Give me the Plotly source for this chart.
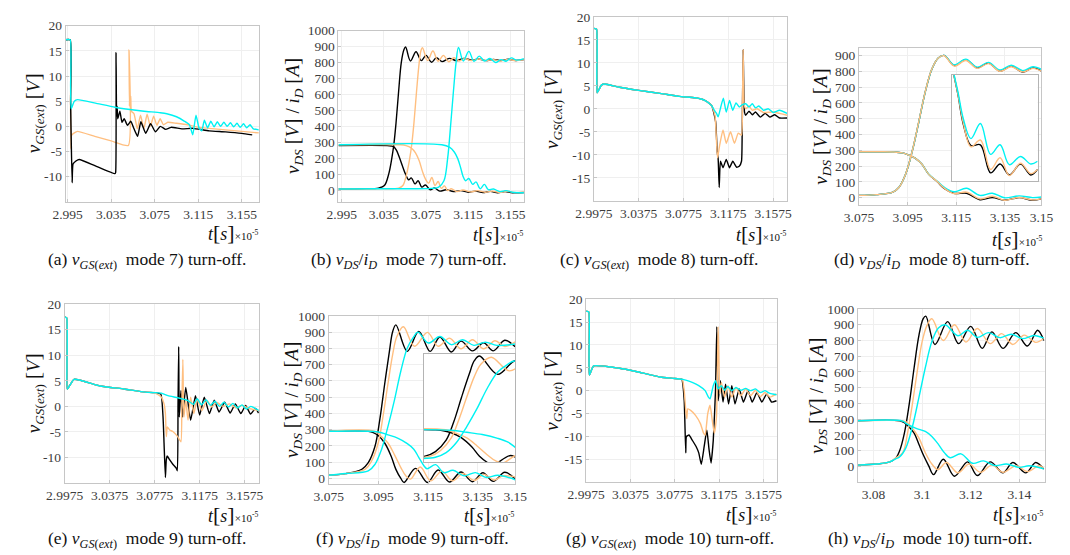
import plotly.graph_objects as go

# ---------------- (a) v_GS(ext), mode 7 turn-off ----------------
a_t_black = [2.9932, 2.9974, 2.9978, 2.9992, 3.0000, 3.0027, 3.0057, 3.020, 3.0385, 3.0391, 3.0395, 3.0400,
             3.0405, 3.041, 3.043, 3.045, 3.047, 3.050, 3.053, 3.056, 3.0593, 3.0623, 3.0667, 3.0712, 3.0757,
             3.0801, 3.085, 3.090, 3.100, 3.110, 3.125, 3.140, 3.155, 3.1645]
a_v_black = [17.2, 17.2, 5.0, -11.2, -7.5, -6.9, -6.6, -7.8, -9.4, -9.2, 14.7, 2.0, 4.0, 1.5, 3.0, 0.8, 1.5, 0.2,
             1.0, -0.5, -2.0, 0.9, -1.4, 0.5, -1.1, 0.0, -0.6, -0.2, -0.5, -0.4, -0.9, -1.1, -1.4, -1.7]
a_t_orange = [2.9932, 2.9974, 2.9977, 2.9981, 2.9986, 3.0012, 3.0042, 3.020, 3.035, 3.0508, 3.0514, 3.0518,
              3.0522, 3.0526, 3.053, 3.0536, 3.056, 3.059, 3.062, 3.065, 3.068, 3.071, 3.074, 3.077, 3.080,
              3.083, 3.087, 3.095, 3.105, 3.115, 3.125, 3.135, 3.145, 3.155, 3.1706]
a_v_orange = [17.2, 17.2, 5.0, -4.5, -1.8, -1.3, -1.0, -2.0, -2.9, -3.8, 15.2, 4.0, 8.0, 3.0, 6.0, 3.0, 2.5, -0.5,
              2.2, -0.5, 2.4, 0.0, 2.0, 0.2, 1.5, 0.3, 0.8, 0.6, 0.3, -0.2, -0.4, -0.6, -0.8, -1.0, -1.3]
a_t_cyan = [2.9932, 2.9974, 2.9978, 2.9983, 3.0012, 3.0042, 3.0206, 3.0385, 3.0504, 3.0652, 3.0801, 3.0861,
            3.095, 3.1024, 3.1069, 3.1099, 3.1129, 3.1158, 3.1182, 3.1206, 3.1235, 3.1265, 3.1295, 3.1325,
            3.1355, 3.1385, 3.1415, 3.1445, 3.1475, 3.1505, 3.1535, 3.1565, 3.1595, 3.1625, 3.1655, 3.1706]
a_v_cyan = [17.2, 17.2, 8.0, 3.5, 5.0, 5.3, 4.6, 3.8, 3.4, 3.0, 2.7, 2.5, 1.9, 1.0, 0.3, -1.7, 2.2, -0.4, -0.9,
            1.2, -0.3, 1.0, -0.1, 0.9, 0.0, 0.8, 0.0, 0.7, -0.1, 0.6, -0.2, 0.5, -0.3, 0.3, -0.5, -0.7]

# ---------------- (b) v_DS / i_D, mode 7 turn-off ----------------
b_t_vds_black = [2.9919, 3.015, 3.030, 3.0355, 3.0395, 3.0425, 3.0445, 3.0465, 3.049, 3.0515, 3.054, 3.0556,
                 3.0602, 3.0655, 3.0704, 3.075, 3.0802, 3.0848, 3.0901, 3.097, 3.104, 3.111, 3.118, 3.125,
                 3.132, 3.139, 3.146, 3.153, 3.160, 3.1679]
b_vds_black = [8, 10, 14, 30, 100, 200, 290, 420, 620, 800, 880, 897, 810, 868, 812, 845, 802, 830, 806, 826,
               812, 826, 815, 822, 812, 820, 812, 821, 813, 818]
b_t_id_black = [2.9919, 3.038, 3.042, 3.0445, 3.047, 3.050, 3.053, 3.0556, 3.0585, 3.061, 3.0645, 3.0675,
                3.071, 3.0745, 3.079, 3.083, 3.088, 3.094, 3.101, 3.108, 3.115, 3.122, 3.129, 3.136, 3.143,
                3.150, 3.157, 3.1679]
b_id_black = [280, 280, 277, 272, 250, 200, 145, 100, 65, 78, 40, 60, 20, 33, 3, 14, -5, 3, -8, -2, -12, -5,
              -14, -7, -15, -8, -16, -14]
b_t_vds_orange = [2.9919, 3.030, 3.049, 3.053, 3.0565, 3.0595, 3.0615, 3.0635, 3.066, 3.0685, 3.070, 3.0716,
                  3.0765, 3.0815, 3.0865, 3.0915, 3.0965, 3.1015, 3.1065, 3.1115, 3.118, 3.125, 3.132, 3.139,
                  3.146, 3.153, 3.160, 3.1679]
b_vds_orange = [8, 10, 14, 30, 100, 200, 290, 420, 620, 800, 870, 893, 812, 872, 808, 845, 805, 830, 810, 825,
                812, 822, 812, 818, 810, 820, 812, 818]
b_t_id_orange = [2.9919, 3.050, 3.056, 3.061, 3.065, 3.0685, 3.0715, 3.0745, 3.0775, 3.0805, 3.0835, 3.0865,
                 3.0895, 3.0925, 3.0955, 3.099, 3.104, 3.110, 3.117, 3.124, 3.131, 3.138, 3.145, 3.152, 3.159,
                 3.1679]
b_id_orange = [285, 285, 280, 265, 235, 185, 120, 70, 45, 80, 30, 55, 12, 28, -2, 10, -8, 2, -10, -2, -12, -5,
               -14, -6, -14, -12]
b_t_vds_cyan = [2.9919, 3.030, 3.080, 3.087, 3.092, 3.0955, 3.0985, 3.101, 3.1035, 3.1058, 3.1104, 3.1156,
                3.1205, 3.1255, 3.1304, 3.1356, 3.141, 3.146, 3.151, 3.156, 3.161, 3.1679]
b_vds_cyan = [8, 10, 12, 20, 60, 200, 420, 620, 800, 895, 810, 870, 808, 840, 810, 825, 800, 818, 808, 829, 815,
              825]
b_t_id_cyan = [2.9919, 3.090, 3.0972, 3.1018, 3.105, 3.1079, 3.110, 3.1125, 3.1156, 3.1193, 3.1224, 3.1264,
               3.1304, 3.1341, 3.139, 3.145, 3.151, 3.157, 3.1679]
b_id_cyan = [285, 285, 270, 240, 200, 140, 90, 60, 74, 37, 53, 10, 37, 4, 8, -8, -2, -12, -15]

# ---------------- (c) v_GS(ext), mode 8 turn-off ----------------
c_t_common = [2.9975, 2.9999, 3.0002, 3.0005, 3.0044, 3.0073, 3.0203, 3.0376, 3.0579, 3.0737, 3.0882, 3.0969,
              3.1027]
c_v_common = [17.5, 17.3, 8.0, 3.5, 5.2, 5.4, 4.7, 4.0, 3.3, 2.7, 2.4, 1.8, 0.7]
c_t_black = [3.1062, 3.1076, 3.1085, 3.1094, 3.1105, 3.1128, 3.1157, 3.1186, 3.1215, 3.125, 3.1273, 3.1293,
             3.1299, 3.1308, 3.132, 3.1331, 3.136, 3.1389, 3.1418, 3.1461, 3.1504, 3.1547, 3.159, 3.1633, 3.170]
c_v_black = [-2.8, -9.2, -11.0, -17.1, -11.4, -12.8, -11.0, -12.8, -11.4, -12.7, -12.5, -11.4, -5.7, 12.9, -0.7,
             -1.4, -0.5, -1.3, -0.7, -1.8, -1.0, -1.8, -1.3, -2.0, -2.0]
c_t_orange = [3.1056, 3.107, 3.1079, 3.1099, 3.1128, 3.1157, 3.1195, 3.123, 3.1264, 3.1293, 3.1302, 3.1308,
              3.1316, 3.1331, 3.136, 3.1389, 3.1432, 3.149, 3.1575, 3.170]
c_v_orange = [-1.4, -7.1, -10.7, -7.8, -4.6, -7.5, -5.0, -7.5, -5.3, -5.7, 2.0, 12.9, 1.1, 0.0, 0.6, -0.3, 0.0,
              -0.8, -0.7, -1.4]
c_t_cyan = [3.105, 3.107, 3.1085, 3.1108, 3.1131, 3.1157, 3.1186, 3.1215, 3.1244, 3.1273, 3.1302, 3.1331,
            3.136, 3.1389, 3.1418, 3.1447, 3.149, 3.1533, 3.1575, 3.1633, 3.170]
c_v_cyan = [-0.3, -1.0, -1.75, 0.4, 2.3, -0.7, 1.8, -0.3, 1.3, 0.4, 0.9, 1.1, 0.4, 1.1, 0.2, 0.6, -0.3, 0.0,
            -0.8, -0.3, -1.0]

# ---------------- (d) v_DS / i_D, mode 8 turn-off ----------------
d_t_vds = [3.075, 3.0822, 3.0889, 3.0915, 3.0942, 3.0969, 3.0996, 3.1022, 3.1049, 3.1076, 3.110, 3.1142,
           3.1189, 3.1236, 3.1282, 3.1329, 3.1376, 3.1423, 3.1465, 3.150]
d_vds_black = [14, 19, 35, 66, 149, 294, 480, 666, 811, 884, 900, 836, 873, 821, 852, 801, 832, 795, 821, 801]
d_vds_orange = [14, 19, 35, 66, 150, 295, 482, 668, 812, 884, 898, 832, 868, 818, 848, 800, 828, 796, 818, 800]
d_vds_cyan = [14, 19, 35, 66, 149, 294, 480, 666, 811, 884, 900, 840, 876, 826, 856, 808, 838, 804, 828, 812]
d_t_id = [3.075, 3.0822, 3.0889, 3.0929, 3.0955, 3.0982, 3.1009, 3.1036, 3.1072, 3.110, 3.1141, 3.1192,
          3.1247, 3.1298, 3.1348, 3.1408, 3.1463, 3.150]
d_id_black = [290, 290, 289, 283, 269, 248, 211, 149, 100, 58, 27, 28, -13, 0, -16, 0, -16, -8]
d_id_orange = [290, 290, 289, 283, 269, 248, 211, 149, 101, 60, 25, 35, -8, 9, -17, 1, -14, -8]
d_id_cyan = [290, 290, 289, 283, 269, 248, 211, 150, 104, 66, 37, 59, 14, 28, -1, 11, 0, 4]

# ---------------- (e) v_GS(ext), mode 9 turn-off ----------------
e_t_common = [2.9975, 2.9993, 2.9996, 2.9999, 3.0059, 3.0288, 3.0504, 3.0691, 3.0772]
e_v_common = [17.5, 17.3, 8.0, 3.4, 5.3, 4.0, 3.4, 2.8, 2.7]
e_t_black = [3.0829, 3.0849, 3.0858, 3.087, 3.0878, 3.0887, 3.0907, 3.0936, 3.0965, 3.0976, 3.0982, 3.0988,
             3.0993, 3.1008, 3.1022, 3.1051, 3.1094, 3.1137, 3.1174, 3.1215, 3.1261, 3.1304, 3.1347, 3.1396,
             3.1445, 3.1491, 3.154, 3.1583, 3.1626, 3.167, 3.1698]
e_v_black = [2.4, -2.1, -7.2, -13.9, -10.4, -9.7, -10.4, -11.3, -12.0, -12.6, 0.0, 11.7, -2.1, 3.1, -2.1, 3.7,
             -2.7, 2.1, -1.7, 1.8, -1.4, 1.2, -1.1, 0.8, -1.3, 0.5, -1.4, 0.2, -1.5, -0.4, -1.3]
e_t_orange = [3.0835, 3.0858, 3.087, 3.0878, 3.0887, 3.0907, 3.0936, 3.0979, 3.1008, 3.1016, 3.1025, 3.1034,
              3.1051, 3.1071, 3.1094, 3.1123, 3.1152, 3.1195, 3.1238, 3.1281, 3.1324, 3.1382, 3.1439, 3.1497,
              3.1555, 3.1612, 3.1698]
e_v_orange = [1.8, 0.5, -1.4, -5.9, -4.0, -4.6, -4.9, -5.9, -6.9, 0.0, 9.2, -2.1, 1.2, -2.7, 1.8, -1.4, 1.5,
              -0.8, 1.2, -0.1, 0.8, 0.0, 0.5, -0.3, 0.2, -0.4, -0.8]
e_t_cyan = [3.0835, 3.0893, 3.098, 3.1066, 3.112, 3.1152, 3.119, 3.123, 3.127, 3.131, 3.135, 3.139, 3.143,
            3.147, 3.151, 3.155, 3.159, 3.163, 3.170]
e_v_cyan = [2.6, 2.1, 1.7, 1.2, 0.4, 1.5, 0.3, 1.3, 0.2, 1.0, 0.0, 0.8, -0.1, 0.6, -0.3, 0.3, -0.5, 0.0, -0.8]

# ---------------- (f) v_DS / i_D, mode 9 turn-off ----------------
f_t_vds_black = [3.075, 3.0818, 3.0883, 3.0909, 3.0936, 3.0955, 3.0975, 3.0994, 3.1007, 3.102, 3.1066, 3.1112,
                 3.1158, 3.1197, 3.1243, 3.1282, 3.1328, 3.1373, 3.1412, 3.1458, 3.150]
f_vds_black = [20, 30, 56, 97, 198, 359, 581, 782, 903, 945, 782, 905, 782, 870, 778, 845, 785, 835, 785, 850,
               810]
f_t_vds_orange = [3.075, 3.0818, 3.0896, 3.0922, 3.0949, 3.0968, 3.0988, 3.1007, 3.1024, 3.105, 3.1095,
                  3.1147, 3.119, 3.1236, 3.1282, 3.1328, 3.1373, 3.1419, 3.1458, 3.150]
f_vds_orange = [20, 30, 56, 107, 218, 379, 581, 762, 873, 933, 813, 899, 813, 863, 798, 853, 798, 847, 812, 840]
f_t_vds_cyan = [3.075, 3.0818, 3.0909, 3.0936, 3.0962, 3.0988, 3.1014, 3.104, 3.1066, 3.1092, 3.1108, 3.1151,
                3.1197, 3.1243, 3.1288, 3.1334, 3.138, 3.1426, 3.150]
f_vds_cyan = [20, 30, 46, 87, 177, 319, 480, 661, 802, 873, 900, 833, 873, 823, 853, 819, 839, 819, 827]
f_t_id_black = [3.075, 3.0909, 3.0929, 3.0949, 3.0975, 3.1001, 3.102, 3.104, 3.1053, 3.1099, 3.1147, 3.119,
                3.1236, 3.1282, 3.1328, 3.137, 3.1412, 3.1458, 3.150]
f_id_black = [290, 290, 282, 264, 218, 137, 56, 0, -25, 62, -25, 52, -22, 40, -20, 35, -18, 38, -4]
f_t_id_orange = [3.075, 3.0935, 3.0962, 3.0988, 3.1014, 3.104, 3.106, 3.1079, 3.1118, 3.116, 3.1205, 3.1248,
                 3.129, 3.1335, 3.1375, 3.1415, 3.145, 3.150]
f_id_orange = [290, 290, 258, 218, 147, 67, 16, -4, 70, -15, 45, -15, 30, -12, 25, -10, 15, 10]
f_t_id_cyan = [3.075, 3.0949, 3.0988, 3.1027, 3.1066, 3.1092, 3.1112, 3.1132, 3.1145, 3.118, 3.1212, 3.125,
               3.1295, 3.134, 3.1385, 3.143, 3.150]
f_id_cyan = [290, 286, 268, 248, 214, 180, 130, 80, 60, 85, 36, 50, 16, 36, 6, 20, -8]

# ---------------- (g) v_GS(ext), mode 10 turn-off ----------------
g_t_common = [2.9975, 2.9999, 3.0002, 3.0005, 3.0043, 3.0276, 3.0425, 3.0641, 3.0758, 3.0839]
g_v_common = [17.4, 17.2, 8.0, 3.4, 5.4, 4.9, 4.2, 3.0, 2.7, 2.5]
g_t_black = [3.0845, 3.086, 3.0874, 3.088, 3.0903, 3.0932, 3.0967, 3.0991, 3.1014, 3.104, 3.1064, 3.1084,
             3.1102, 3.1122, 3.1142, 3.1154, 3.1166, 3.1186, 3.121, 3.1233, 3.126, 3.1289, 3.1318, 3.1356,
             3.1394, 3.1435, 3.1473, 3.1516, 3.156, 3.1604, 3.1648, 3.1692]
g_v_black = [1.8, -2.2, -13.6, -10.0, -9.7, -10.8, -12.2, -13.6, -16.1, -12.2, -8.6, -12.9, -15.8, -10.8, 0.0,
             14.0, -2.2, 2.2, -2.5, 1.4, -2.9, 1.1, -2.9, 0.4, -2.5, 0.0, -2.5, -0.4, -2.5, -0.7, -2.5, -2.2]
g_t_orange = [3.0845, 3.086, 3.0874, 3.0883, 3.0892, 3.0918, 3.0962, 3.1006, 3.1035, 3.1049, 3.1072, 3.1093,
              3.1113, 3.1131, 3.1151, 3.1166, 3.1181, 3.1195, 3.1224, 3.1254, 3.1289, 3.1327, 3.137, 3.1414,
              3.1458, 3.1502, 3.1546, 3.1589, 3.1633, 3.1692]
g_v_orange = [2.3, 0.0, -4.3, -6.1, -4.0, -4.3, -5.4, -7.2, -9.3, -9.7, -5.0, -3.2, -6.5, -9.3, -5.7, 14.0, -0.7,
              1.8, -1.4, 1.1, -1.4, 0.7, -1.1, 0.4, -1.1, 0.1, -1.3, -0.4, -1.4, -0.7]
g_t_cyan = [3.0874, 3.0932, 3.0991, 3.1049, 3.1078, 3.1093, 3.1122, 3.1142, 3.1166, 3.1195, 3.1224, 3.1254,
            3.1289, 3.1327, 3.137, 3.1414, 3.1458, 3.1502, 3.1546, 3.1589, 3.1633, 3.1692]
g_v_cyan = [2.3, 1.8, 1.1, 0.0, -1.4, -1.8, 1.1, 2.2, 0.4, 1.1, 0.1, 0.9, 0.0, 0.7, 0.1, 0.5, 0.0, 0.4, -0.4,
            0.0, -0.6, -0.9]

# ---------------- (h) v_DS / i_D, mode 10 turn-off ----------------
h_t_vds_black = [3.0736, 3.0813, 3.0867, 3.0893, 3.0907, 3.0927, 3.0947, 3.0967, 3.0987, 3.1004, 3.1015,
                 3.1053, 3.1105, 3.115, 3.120, 3.1247, 3.1287, 3.1333, 3.1385, 3.1433, 3.1475, 3.150]
h_vds_black = [8, 15, 29, 56, 98, 212, 398, 627, 834, 938, 955, 775, 920, 780, 890, 750, 855, 750, 850, 765, 865,
               800]
h_t_vds_orange = [3.0736, 3.0813, 3.0867, 3.0893, 3.092, 3.094, 3.096, 3.098, 3.100, 3.102, 3.104, 3.1087,
                  3.1133, 3.118, 3.1227, 3.128, 3.1327, 3.1373, 3.142, 3.1467, 3.150]
h_vds_orange = [8, 15, 29, 56, 87, 212, 398, 606, 793, 896, 938, 800, 900, 790, 876, 780, 844, 775, 834, 788, 813]
h_t_vds_cyan = [3.0736, 3.0813, 3.0867, 3.0893, 3.0907, 3.0933, 3.096, 3.0987, 3.1013, 3.104, 3.1067, 3.1095,
                3.1147, 3.1187, 3.1227, 3.1273, 3.132, 3.1367, 3.1413, 3.146, 3.150]
h_vds_cyan = [8, 15, 29, 50, 60, 118, 253, 440, 627, 793, 880, 900, 830, 865, 820, 850, 818, 840, 812, 832, 815]
h_t_id_black = [3.0736, 3.0907, 3.0927, 3.0947, 3.0967, 3.0987, 3.1007, 3.1027, 3.1047, 3.1087, 3.1133,
                3.1187, 3.1227, 3.128, 3.1333, 3.1373, 3.1427, 3.1467, 3.150]
h_id_black = [290, 290, 278, 249, 212, 139, 66, 4, -52, 46, -62, 29, -58, 29, -41, 25, -41, 25, -17]
h_t_id_orange = [3.0736, 3.092, 3.0933, 3.096, 3.0987, 3.1013, 3.104, 3.1065, 3.110, 3.1147, 3.1193, 3.124,
                 3.1287, 3.1333, 3.1387, 3.1433, 3.148, 3.150]
h_id_orange = [290, 290, 284, 243, 180, 87, 15, -20, 25, -41, 15, -37, 8, -37, 4, -33, 4, -10]
h_t_id_cyan = [3.0736, 3.092, 3.0933, 3.0973, 3.1013, 3.104, 3.1067, 3.109, 3.1115, 3.116, 3.1207, 3.1253,
               3.130, 3.1347, 3.140, 3.144, 3.150]
h_id_cyan = [290, 288, 274, 243, 222, 190, 140, 90, 55, 80, 20, 35, 5, 15, -6, 4, -15]

# ---------------- tick labels ----------------
ticks_t7 = [2.995, 3.035, 3.075, 3.115, 3.155]
ticks_t8 = [2.9975, 3.0375, 3.0775, 3.1175, 3.1575]
ticks_tzoom = [3.075, 3.095, 3.115, 3.135, 3.15]
ticks_t10 = [3.08, 3.1, 3.12, 3.14]
ticks_vgs7 = [-10, -5, 0, 5, 10, 15, 20]
ticks_vgs8 = [-15, -10, -5, 0, 5, 10, 15, 20]
ticks_vds1000 = list(range(0, 1001, 100))
ticks_vds900 = list(range(0, 901, 100))

captions = [
    "(a) <i>v</i><sub><i>GS</i>(<i>ext</i>)</sub>  mode 7) turn-off.",
    "(b) <i>v</i><sub><i>DS</i></sub>/<i>i</i><sub><i>D</i></sub>  mode 7) turn-off.",
    "(c) <i>v</i><sub><i>GS</i>(<i>ext</i>)</sub>  mode 8) turn-off.",
    "(d) <i>v</i><sub><i>DS</i></sub>/<i>i</i><sub><i>D</i></sub>  mode 8) turn-off.",
    "(e) <i>v</i><sub><i>GS</i>(<i>ext</i>)</sub>  mode 9) turn-off.",
    "(f) <i>v</i><sub><i>DS</i></sub>/<i>i</i><sub><i>D</i></sub>  mode 9) turn-off.",
    "(g) <i>v</i><sub><i>GS</i>(<i>ext</i>)</sub>  mode 10) turn-off.",
    "(h) <i>v</i><sub><i>DS</i></sub>/<i>i</i><sub><i>D</i></sub>  mode 10) turn-off.",
]

# ---------------- styling ----------------
W, H = 1070, 555
SERIF = "Liberation Serif"
BLACK, ORANGE, CYAN = "#000000", "#ffbf80", "#00f2f2"
LW = 1.4
BR = "<span style='font-size:22px'>[</span>"
BL = "<span style='font-size:22px'>]</span>"
Y_GS = "<i>v</i><sub><i>GS</i>(<i>ext</i>)</sub> " + BR + "<i>V</i>" + BL
Y_DS = ("<i>v</i><sub><i>DS</i></sub> " + BR + "<i>V</i>" + BL + " / <i>i</i><sub><i>D</i></sub> "
        + BR + "<i>A</i>" + BL)
X_T = ("<i>t</i>" + BR + "<i>s</i>" + BL +
       "<span style='font-size:11px'>×10<sup>-5</sup></span>")


def domain(box):
    x0, x1, y0, y1 = box
    return [x0 / W, x1 / W], [1 - y1 / H, 1 - y0 / H]


fig = go.Figure()
layout = dict(width=W, height=H, margin=dict(l=0, r=0, t=0, b=0), paper_bgcolor="white",
              plot_bgcolor="white", showlegend=False, font=dict(family=SERIF, color="#222"))
annotations = []

axis_style = dict(showline=True, linecolor="#c6c6c6", linewidth=1, mirror=True, showgrid=True,
                  gridcolor="#efefef", gridwidth=1, zeroline=False, ticks="inside", ticklen=3,
                  tickcolor="#c6c6c6", tickfont=dict(family=SERIF, size=13.5, color="#3c3c3c"))

# panel definitions: pixel box (left, right, top, bottom), x range, y range, ticks, titles
panels = [
    dict(box=(48, 247, 19, 198), xr=[2.9932, 3.1706], yr=[-15, 20], xt=ticks_t7, yt=ticks_vgs7, ytitle=Y_GS,
         ytx=15, xlab=(248, 229), cap=(132, 258)),
    dict(box=(329, 520, 24, 198), xr=[2.9919, 3.1679], yr=[-72, 1000], xt=ticks_t7, yt=ticks_vds1000,
         ytitle=Y_DS, ytx=281, xlab=(521, 230), cap=(402, 258)),
    dict(box=(592, 791, 10, 197), xr=[2.9975, 3.17], yr=[-20, 20], xt=ticks_t8, yt=ticks_vgs8, ytitle=Y_GS,
         ytx=549, xlab=(792, 230), cap=(660, 258)),
    dict(box=(865, 1053, 42, 201), xr=[3.075, 3.15], yr=[-45, 945], xt=ticks_tzoom, yt=ticks_vds900,
         ytitle=Y_DS, ytx=825, xlab=(1056, 235), cap=(940, 258)),
    dict(box=(47, 247, 302, 484), xr=[2.9975, 3.17], yr=[-15, 20], xt=ticks_t8, yt=ticks_vgs7, ytitle=Y_GS,
         ytx=15, xlab=(248, 516), cap=(132, 541)),
    dict(box=(319, 511, 314, 485), xr=[3.075, 3.15], yr=[-35, 1000], xt=ticks_tzoom, yt=ticks_vds1000,
         ytitle=Y_DS, ytx=280, xlab=(512, 516), cap=(405, 541)),
    dict(box=(584, 781, 297, 483), xr=[2.9975, 3.17], yr=[-20, 20], xt=ticks_t8, yt=ticks_vgs8, ytitle=Y_GS,
         ytx=549, xlab=(782, 515), cap=(670, 541)),
    dict(box=(864, 1057, 307, 483), xr=[3.0736, 3.1507], yr=[-100, 1000], xt=ticks_t10, yt=ticks_vds1000,
         ytitle=Y_DS, ytx=821, xlab=(1057, 515), cap=(938, 541)),
]


def fmt_tick(v):
    return ("%.4f" % v).rstrip("0").rstrip(".")


for i, p in enumerate(panels):
    n = i + 1
    xd, yd = domain(p["box"])
    xa = dict(axis_style, domain=xd, range=p["xr"], anchor="y%d" % n, tickvals=p["xt"],
              ticktext=[fmt_tick(v) for v in p["xt"]])
    ya = dict(axis_style, domain=yd, range=p["yr"], anchor="x%d" % n, tickvals=p["yt"],
              ticktext=[str(v) for v in p["yt"]])
    layout["xaxis%d" % n] = xa
    layout["yaxis%d" % n] = ya
    ymid = (p["box"][2] + p["box"][3]) / 2
    annotations.append(dict(text=p["ytitle"], x=p["ytx"] / W, y=1 - ymid / H, xref="paper", yref="paper",
                            textangle=-90, showarrow=False, xanchor="center", yanchor="middle",
                            font=dict(family=SERIF, size=19, color="#111")))
    annotations.append(dict(text=X_T, x=p["xlab"][0] / W, y=1 - p["xlab"][1] / H, xref="paper", yref="paper",
                            showarrow=False, xanchor="right", yanchor="middle",
                            font=dict(family=SERIF, size=18, color="#111")))
    annotations.append(dict(text=captions[i], x=p["cap"][0] / W, y=1 - p["cap"][1] / H, xref="paper",
                            yref="paper", showarrow=False, xanchor="center", yanchor="middle",
                            font=dict(family=SERIF, size=17.5, color="#111")))


def add(n, t, v, color, smooth):
    line = dict(color=color, width=LW, shape="spline", smoothing=smooth)
    fig.add_trace(go.Scatter(x=t, y=v, mode="lines", line=line, xaxis="x%d" % n, yaxis="y%d" % n,
                             hoverinfo="skip"))


GS_SMOOTH, DS_SMOOTH = 0.45, 1.0

# (a)
add(1, a_t_orange, a_v_orange, ORANGE, GS_SMOOTH)
add(1, a_t_black, a_v_black, BLACK, GS_SMOOTH)
add(1, a_t_cyan, a_v_cyan, CYAN, GS_SMOOTH)
# (b)
for tt, vv, col in [(b_t_vds_black, b_vds_black, BLACK), (b_t_id_black, b_id_black, BLACK),
                    (b_t_vds_orange, b_vds_orange, ORANGE), (b_t_id_orange, b_id_orange, ORANGE),
                    (b_t_vds_cyan, b_vds_cyan, CYAN), (b_t_id_cyan, b_id_cyan, CYAN)]:
    add(2, tt, vv, col, DS_SMOOTH)
# (c)
add(3, c_t_common + c_t_black, c_v_common + c_v_black, BLACK, GS_SMOOTH)
add(3, c_t_common + c_t_orange, c_v_common + c_v_orange, ORANGE, GS_SMOOTH)
add(3, c_t_common + c_t_cyan, c_v_common + c_v_cyan, CYAN, GS_SMOOTH)
# (d)
for tt, vv, col in [(d_t_vds, d_vds_black, BLACK), (d_t_id, d_id_black, BLACK),
                    (d_t_vds, d_vds_cyan, CYAN), (d_t_id, d_id_cyan, CYAN),
                    (d_t_vds, d_vds_orange, ORANGE), (d_t_id, d_id_orange, ORANGE)]:
    add(4, tt, vv, col, DS_SMOOTH)
# (e)
add(5, e_t_common + e_t_black, e_v_common + e_v_black, BLACK, GS_SMOOTH)
add(5, e_t_common + e_t_orange, e_v_common + e_v_orange, ORANGE, GS_SMOOTH)
add(5, e_t_common + e_t_cyan, e_v_common + e_v_cyan, CYAN, GS_SMOOTH)
# (f)
f_series = [(f_t_vds_black, f_vds_black, BLACK), (f_t_id_black, f_id_black, BLACK),
            (f_t_vds_orange, f_vds_orange, ORANGE), (f_t_id_orange, f_id_orange, ORANGE),
            (f_t_vds_cyan, f_vds_cyan, CYAN), (f_t_id_cyan, f_id_cyan, CYAN)]
for tt, vv, col in f_series:
    add(6, tt, vv, col, DS_SMOOTH)
# (g)
add(7, g_t_common + g_t_black, g_v_common + g_v_black, BLACK, GS_SMOOTH)
add(7, g_t_common + g_t_orange, g_v_common + g_v_orange, ORANGE, GS_SMOOTH)
add(7, g_t_common + g_t_cyan, g_v_common + g_v_cyan, CYAN, GS_SMOOTH)
# (h)
for tt, vv, col in [(h_t_vds_black, h_vds_black, BLACK), (h_t_id_black, h_id_black, BLACK),
                    (h_t_vds_orange, h_vds_orange, ORANGE), (h_t_id_orange, h_id_orange, ORANGE),
                    (h_t_vds_cyan, h_vds_cyan, CYAN), (h_t_id_cyan, h_id_cyan, CYAN)]:
    add(8, tt, vv, col, DS_SMOOTH)

# magnified insets: same series, narrower windows
insets = [
    dict(n=9, box=(961, 1049, 69, 177), xr=[3.104, 3.15], yr=[-25, 130],
         series=[(d_t_id, d_id_black, BLACK), (d_t_id, d_id_orange, ORANGE), (d_t_id, d_id_cyan, CYAN)]),
    dict(n=10, box=(417, 511, 353, 463), xr=[3.088, 3.111], yr=[0, 960], series=f_series),
]
for ins in insets:
    n = ins["n"]
    xd, yd = domain(ins["box"])
    inset_axis = dict(showline=True, linecolor="#b4b4b4", linewidth=1, mirror=True, showgrid=False,
                      zeroline=False, showticklabels=False, ticks="")
    layout["xaxis%d" % n] = dict(inset_axis, domain=xd, range=ins["xr"], anchor="y%d" % n)
    layout["yaxis%d" % n] = dict(inset_axis, domain=yd, range=ins["yr"], anchor="x%d" % n)
    for tt, vv, col in ins["series"]:
        add(n, tt, vv, col, DS_SMOOTH)

layout["annotations"] = annotations
fig.update_layout(**layout)
fig.write_html("out.html", config={"displayModeBar": False})
